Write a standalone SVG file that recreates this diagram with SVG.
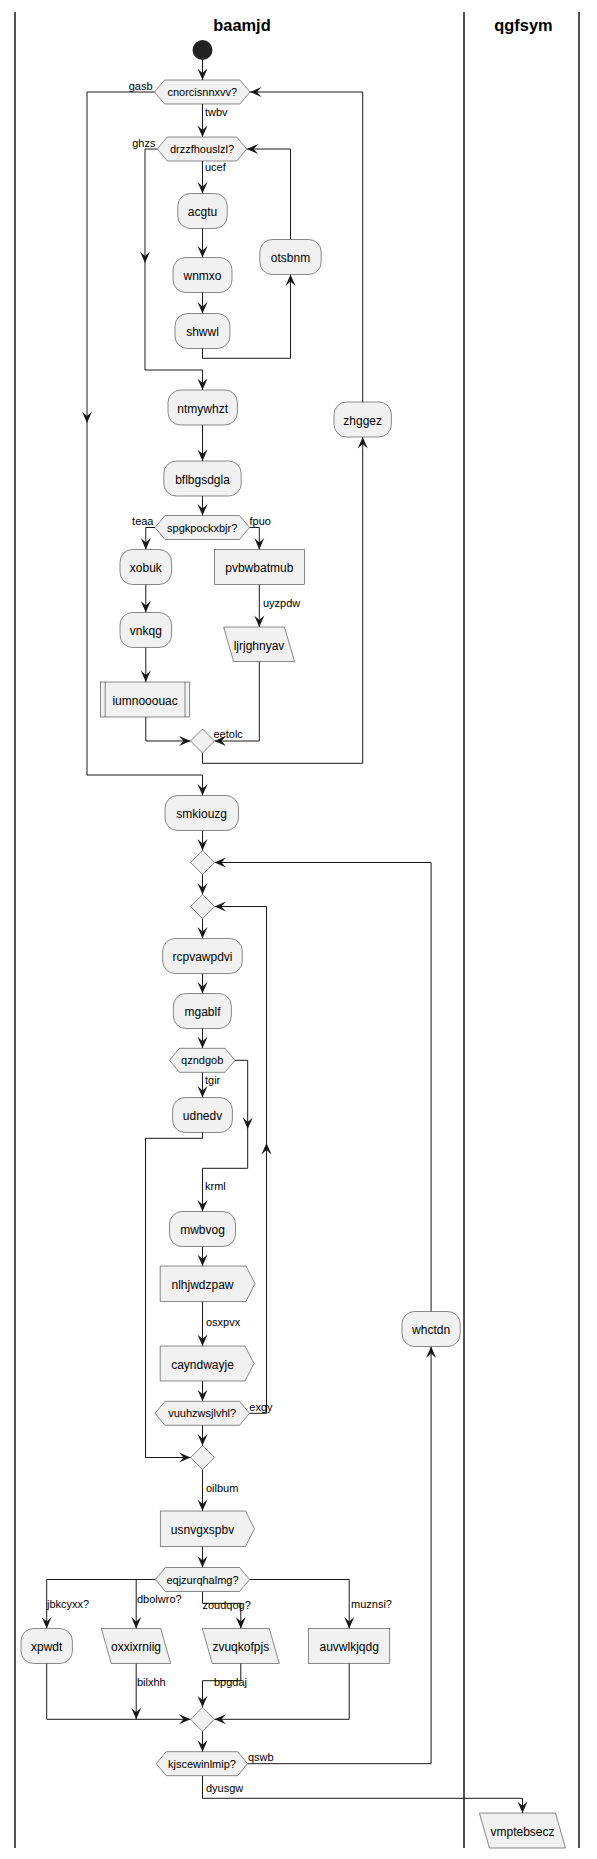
<svg xmlns="http://www.w3.org/2000/svg" width="597" height="1859" viewBox="0 0 597 1859">
<style>
text{font-family:"Liberation Sans",Arial,sans-serif;fill:#000}
.t{font-size:12px;text-anchor:middle}
.h{font-size:11px;text-anchor:middle}
.l{font-size:11px}
.r{font-size:11px;text-anchor:end}
.title{font-size:16.4px;font-weight:bold;text-anchor:middle}
.n{fill:#F1F1F1;stroke:#181818;stroke-width:0.5}
.e path{fill:none;stroke:#181818;stroke-width:1}
.lane{stroke:#181818;stroke-width:1.5}
</style>
<defs>
<marker id="ah" markerUnits="userSpaceOnUse" markerWidth="13" markerHeight="11" refX="11.5" refY="5" orient="auto" overflow="visible">
<path d="M0,0 L11.5,5 L0,10 L4.5,5 Z" fill="#181818"/>
</marker>
</defs>
<rect width="597" height="1859" fill="#FFFFFF"/>
<g id="lanes">
<line class="lane" x1="15" y1="12" x2="15" y2="1848"/>
<line class="lane" x1="464" y1="12" x2="464" y2="1848"/>
<line class="lane" x1="579" y1="12" x2="579" y2="1848"/>
<text class="title" x="242" y="30.5">baamjd</text>
<text class="title" x="523.5" y="30.5">qgfsym</text>
</g>
<g id="connectors" class="e">
<path d="M202.5,60 V80" marker-end="url(#ah)"/>
<path d="M202.5,104 V137" marker-end="url(#ah)"/>
<path d="M202.5,161 V193.5" marker-end="url(#ah)"/>
<path d="M202.5,228.5 V257.5" marker-end="url(#ah)"/>
<path d="M202.5,292.5 V313.5" marker-end="url(#ah)"/>
<path d="M202.5,348.5 V358.3 H290.5 V274.5" marker-end="url(#ah)"/>
<path d="M290.5,239.5 V149 H246.7" marker-end="url(#ah)"/>
<path d="M157.3,149 H145 V263" marker-end="url(#ah)"/>
<path d="M145,263 V370 H202.5 V390" marker-end="url(#ah)"/>
<path d="M202.5,425 V461" marker-end="url(#ah)"/>
<path d="M202.5,496 V515.5" marker-end="url(#ah)"/>
<path d="M155,527.5 H145.8 V549.5" marker-end="url(#ah)"/>
<path d="M249.5,527.5 H259.3 V549.5" marker-end="url(#ah)"/>
<path d="M145.8,584.5 V612.5" marker-end="url(#ah)"/>
<path d="M145.8,647.5 V682" marker-end="url(#ah)"/>
<path d="M259.3,584.5 V627" marker-end="url(#ah)"/>
<path d="M145.8,717 V741 H190.5" marker-end="url(#ah)"/>
<path d="M259.3,661.5 V741 H214.5" marker-end="url(#ah)"/>
<path d="M202.5,753 V763.3 H362.7 V437" marker-end="url(#ah)"/>
<path d="M362.7,402 V92 H250" marker-end="url(#ah)"/>
<path d="M154.5,92 H87 V423" marker-end="url(#ah)"/>
<path d="M87,423 V775 H202.5 V795.5" marker-end="url(#ah)"/>
<path d="M202.5,830.5 V850.5" marker-end="url(#ah)"/>
<path d="M202.5,874.5 V894.5" marker-end="url(#ah)"/>
<path d="M202.5,918.5 V938.5" marker-end="url(#ah)"/>
<path d="M202.5,973.5 V993.5" marker-end="url(#ah)"/>
<path d="M202.5,1028.5 V1048.3" marker-end="url(#ah)"/>
<path d="M202.5,1072.3 V1097.5" marker-end="url(#ah)"/>
<path d="M235,1060.3 H247.7 V1129" marker-end="url(#ah)"/>
<path d="M247.7,1129 V1168.3 H202.5 V1211.5" marker-end="url(#ah)"/>
<path d="M202.5,1132.5 V1138.3 H145.5 V1457.5 H190.5" marker-end="url(#ah)"/>
<path d="M202.5,1246.5 V1266" marker-end="url(#ah)"/>
<path d="M202.5,1301.5 V1346" marker-end="url(#ah)"/>
<path d="M202.5,1381 V1401.3" marker-end="url(#ah)"/>
<path d="M249.5,1413.3 H266.5 V1143" marker-end="url(#ah)"/>
<path d="M266.5,1143 V906.5 H214.5" marker-end="url(#ah)"/>
<path d="M202.5,1425.3 V1445.5" marker-end="url(#ah)"/>
<path d="M202.5,1469.5 V1511" marker-end="url(#ah)"/>
<path d="M202.5,1546.5 V1567.5" marker-end="url(#ah)"/>
<path d="M155.4,1579.5 H46.7 V1628.5" marker-end="url(#ah)"/>
<path d="M136.2,1579.5 V1628.5" marker-end="url(#ah)"/>
<path d="M202.5,1591.5 V1603.3 H240.8 V1628.5" marker-end="url(#ah)"/>
<path d="M249.6,1579.5 H349.2 V1628.5" marker-end="url(#ah)"/>
<path d="M46.7,1663.5 V1719.3 H190.5" marker-end="url(#ah)"/>
<path d="M136.2,1663.5 V1719.3" marker-end="url(#ah)"/>
<path d="M240.8,1663.5 V1680.7 H202.5 V1707.3" marker-end="url(#ah)"/>
<path d="M349.2,1663.5 V1719.3 H214.5" marker-end="url(#ah)"/>
<path d="M202.5,1731.3 V1751.7" marker-end="url(#ah)"/>
<path d="M247.6,1763.7 H431.1 V1346.5" marker-end="url(#ah)"/>
<path d="M431.1,1311.5 V862.5 H214.5" marker-end="url(#ah)"/>
<path d="M202.5,1775.7 V1798.3 H522.5 V1813" marker-end="url(#ah)"/>
<text class="r" x="152.5" y="89.5">gasb</text>
<text class="l" x="205" y="115.5">twbv</text>
<text class="r" x="155.5" y="146.5">ghzs</text>
<text class="l" x="205" y="171">ucef</text>
<text class="r" x="153.5" y="525">teaa</text>
<text class="l" x="249.5" y="525">fpuo</text>
<text class="l" x="263" y="606.5">uyzpdw</text>
<text class="l" x="213.5" y="738">eetolc</text>
<text class="l" x="205" y="1083.5">tgir</text>
<text class="l" x="205" y="1190">krml</text>
<text class="l" x="206" y="1325.5">osxpvx</text>
<text class="l" x="249.3" y="1410.5">exgy</text>
<text class="l" x="206" y="1491.5">oilbum</text>
<text class="l" x="47" y="1607.5">jbkcyxx?</text>
<text class="l" x="137" y="1602.5">dbolwro?</text>
<text class="l" x="202.5" y="1608.5">zoudqog?</text>
<text class="l" x="351" y="1607.5">muznsi?</text>
<text class="l" x="137" y="1685.5">bilxhh</text>
<text class="l" x="214" y="1685.5">bpgdaj</text>
<text class="l" x="248" y="1761">qswb</text>
<text class="l" x="206" y="1791.5">dyusgw</text>
</g>
<g id="start"><circle cx="202.5" cy="50" r="10" fill="#222222"/></g>
<g id="cnorcisnnxvv"><polygon class="n" points="154.5,92 164.5,80 240,80 250,92 240,104 164.5,104"/><text class="h" x="202.3" y="96">cnorcisnnxvv?</text></g>
<g id="drzzfhouslzl"><polygon class="n" points="157.3,149 167.3,137 236.7,137 246.7,149 236.7,161 167.3,161"/><text class="h" x="202" y="153">drzzfhouslzl?</text></g>
<g id="acgtu"><rect class="n" x="177.75" y="193.5" width="49.5" height="35" rx="12.5"/><text class="t" x="202.5" y="216">acgtu</text></g>
<g id="wnmxo"><rect class="n" x="173" y="257.5" width="59" height="35" rx="12.5"/><text class="t" x="202.5" y="280">wnmxo</text></g>
<g id="shwwl"><rect class="n" x="175" y="313.5" width="55" height="35" rx="12.5"/><text class="t" x="202.5" y="336">shwwl</text></g>
<g id="otsbnm"><rect class="n" x="259.8" y="239.5" width="61.4" height="35" rx="12.5"/><text class="t" x="290.5" y="262">otsbnm</text></g>
<g id="ntmywhzt"><rect class="n" x="168" y="390" width="69.4" height="35" rx="12.5"/><text class="t" x="202.7" y="412.5">ntmywhzt</text></g>
<g id="zhggez"><rect class="n" x="334" y="402" width="57.4" height="35" rx="12.5"/><text class="t" x="362.7" y="424.5">zhggez</text></g>
<g id="bflbgsdgla"><rect class="n" x="163.8" y="461" width="77.4" height="35" rx="12.5"/><text class="t" x="202.5" y="483.5">bflbgsdgla</text></g>
<g id="spgkpockxbjr"><polygon class="n" points="155,527.5 165,515.5 239.5,515.5 249.5,527.5 239.5,539.5 165,539.5"/><text class="h" x="202.2" y="531.5">spgkpockxbjr?</text></g>
<g id="xobuk"><rect class="n" x="120" y="549.5" width="51.6" height="35" rx="12.5"/><text class="t" x="145.8" y="572">xobuk</text></g>
<g id="vnkqg"><rect class="n" x="120" y="612.5" width="51.6" height="35" rx="12.5"/><text class="t" x="145.8" y="635">vnkqg</text></g>
<g id="iumnooouac"><rect class="n" x="100.6" y="682" width="89" height="35"/><line class="n" x1="105.2" y1="682" x2="105.2" y2="717"/><line class="n" x1="185" y1="682" x2="185" y2="717"/><text class="t" x="145.1" y="704.5">iumnooouac</text></g>
<g id="pvbwbatmub"><rect class="n" x="214.3" y="549.5" width="90" height="35"/><text class="t" x="259.3" y="572">pvbwbatmub</text></g>
<g id="ljrjghnyav"><polygon class="n" points="223.6,627 284.5,627 294.5,661.5 233.6,661.5"/><text class="t" x="259" y="649.5">ljrjghnyav</text></g>
<g id="merge1"><polygon class="n" points="202.5,729 214.5,741 202.5,753 190.5,741"/></g>
<g id="smkiouzg"><rect class="n" x="165" y="795.5" width="73.5" height="35" rx="12.5"/><text class="t" x="201.7" y="818">smkiouzg</text></g>
<g id="merge2"><polygon class="n" points="202.5,850.5 214.5,862.5 202.5,874.5 190.5,862.5"/></g>
<g id="merge3"><polygon class="n" points="202.5,894.5 214.5,906.5 202.5,918.5 190.5,906.5"/></g>
<g id="rcpvawpdvi"><rect class="n" x="162.7" y="938.5" width="79.6" height="35" rx="12.5"/><text class="t" x="202.5" y="961">rcpvawpdvi</text></g>
<g id="mgablf"><rect class="n" x="173.4" y="993.5" width="58" height="35" rx="12.5"/><text class="t" x="202.5" y="1016">mgablf</text></g>
<g id="qzndgob"><polygon class="n" points="169.5,1060.3 179.5,1048.3 225,1048.3 235,1060.3 225,1072.3 179.5,1072.3"/><text class="h" x="202.2" y="1064.3">qzndgob</text></g>
<g id="udnedv"><rect class="n" x="172.6" y="1097.5" width="59.8" height="35" rx="12.5"/><text class="t" x="202.5" y="1120">udnedv</text></g>
<g id="mwbvog"><rect class="n" x="169.5" y="1211.5" width="66" height="35" rx="12.5"/><text class="t" x="202.5" y="1234">mwbvog</text></g>
<g id="nlhjwdzpaw"><polygon class="n" points="160.2,1266 246,1266 255,1283.75 246,1301.5 160.2,1301.5"/><text class="t" x="202.5" y="1288.5">nlhjwdzpaw</text></g>
<g id="cayndwayje"><polygon class="n" points="160.2,1346 245,1346 254,1363.5 245,1381 160.2,1381"/><text class="t" x="202.5" y="1368.5">cayndwayje</text></g>
<g id="vuuhzwsjlvhl"><polygon class="n" points="155,1413.3 165,1401.3 239.5,1401.3 249.5,1413.3 239.5,1425.3 165,1425.3"/><text class="h" x="202.2" y="1417.3">vuuhzwsjlvhl?</text></g>
<g id="merge4"><polygon class="n" points="202.5,1445.5 214.5,1457.5 202.5,1469.5 190.5,1457.5"/></g>
<g id="usnvgxspbv"><polygon class="n" points="160.4,1511 245.5,1511 254.5,1528.75 245.5,1546.5 160.4,1546.5"/><text class="t" x="202.5" y="1533.5">usnvgxspbv</text></g>
<g id="eqjzurqhalmg"><polygon class="n" points="155.4,1579.5 165.4,1567.5 239.6,1567.5 249.6,1579.5 239.6,1591.5 165.4,1591.5"/><text class="h" x="202.5" y="1583.5">eqjzurqhalmg?</text></g>
<g id="xpwdt"><rect class="n" x="21" y="1628.5" width="51.4" height="35" rx="12.5"/><text class="t" x="46.7" y="1651">xpwdt</text></g>
<g id="oxxixrniig"><polygon class="n" points="101.3,1628.5 160.7,1628.5 170.7,1663.5 111.3,1663.5"/><text class="t" x="136" y="1651">oxxixrniig</text></g>
<g id="zvuqkofpjs"><polygon class="n" points="202.3,1628.5 269.3,1628.5 279.3,1663.5 212.3,1663.5"/><text class="t" x="240.8" y="1651">zvuqkofpjs</text></g>
<g id="auvwlkjqdg"><rect class="n" x="308.6" y="1628.5" width="81.2" height="35"/><text class="t" x="349.2" y="1651">auvwlkjqdg</text></g>
<g id="merge5"><polygon class="n" points="202.5,1707.3 214.5,1719.3 202.5,1731.3 190.5,1719.3"/></g>
<g id="kjscewinlmip"><polygon class="n" points="156.2,1763.7 166.2,1751.7 237.6,1751.7 247.6,1763.7 237.6,1775.7 166.2,1775.7"/><text class="h" x="202" y="1767.7">kjscewinlmip?</text></g>
<g id="whctdn"><rect class="n" x="402" y="1311.5" width="58.2" height="35" rx="12.5"/><text class="t" x="431.1" y="1334">whctdn</text></g>
<g id="vmptebsecz"><polygon class="n" points="479.4,1813 555.5,1813 565.5,1848 489.4,1848"/><text class="t" x="522.5" y="1835.5">vmptebsecz</text></g>
</svg>
